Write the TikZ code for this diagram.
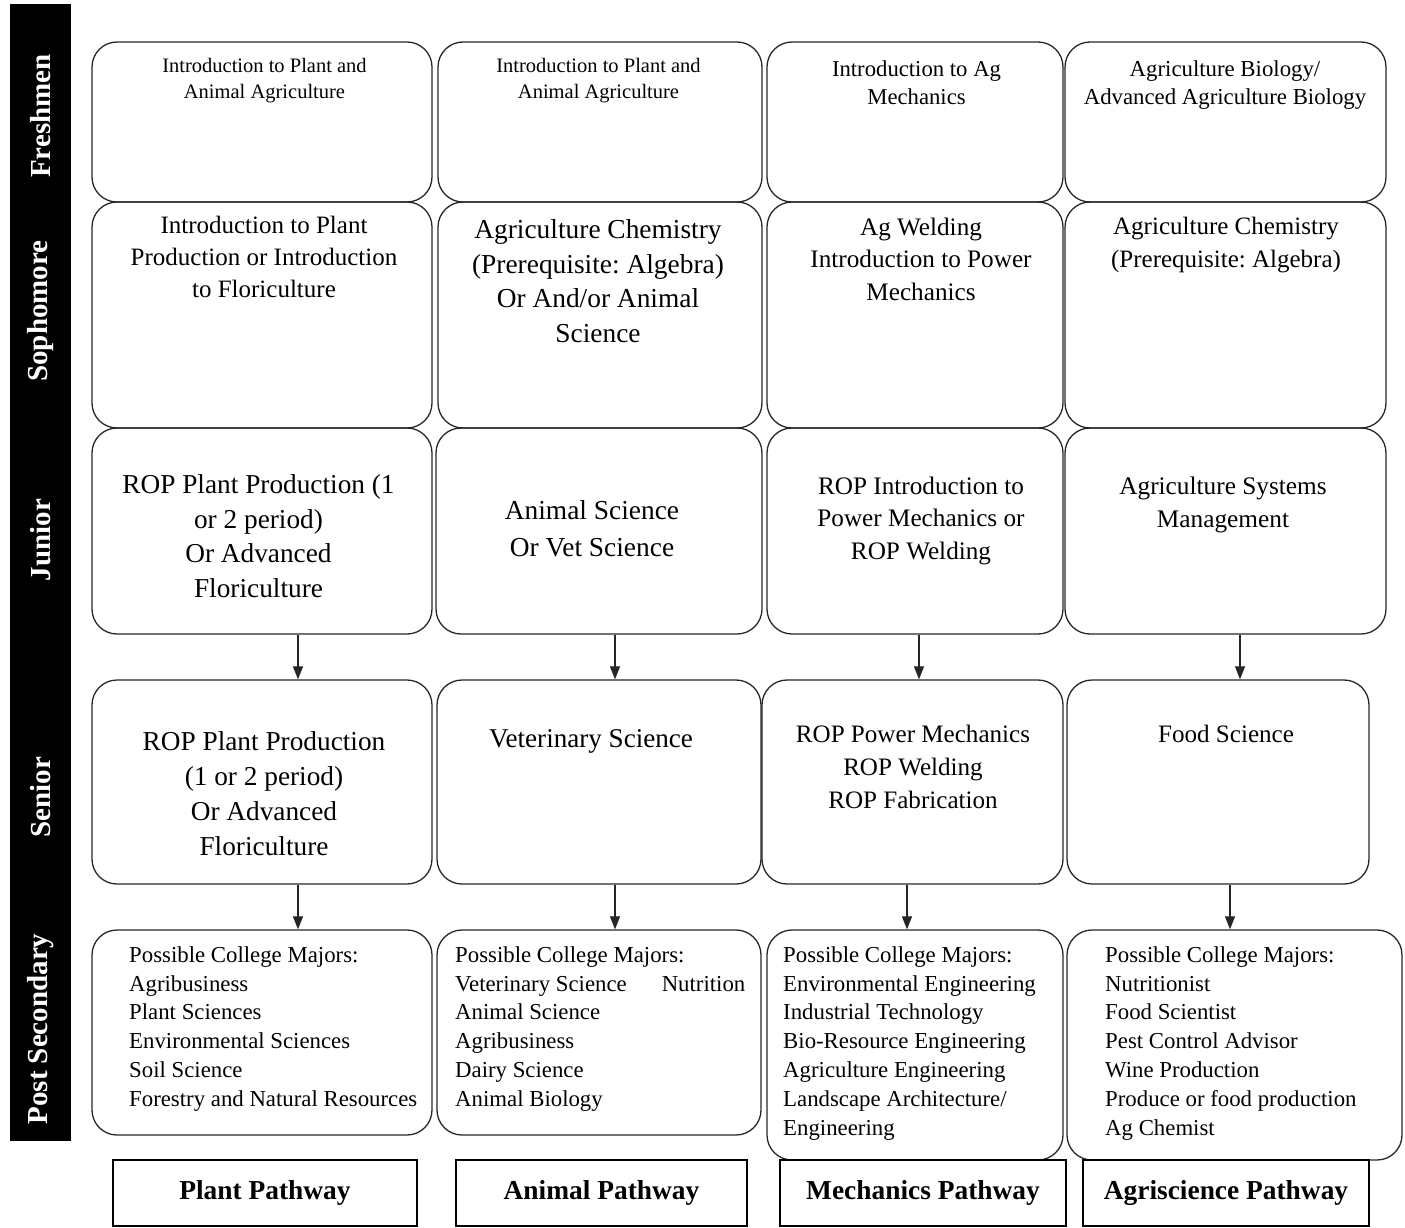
\documentclass[tikz,border=0pt]{standalone}
\usepackage{fontspec}
\setmainfont{Liberation Serif}
\usetikzlibrary{arrows.meta}
\frenchspacing
\newcommand{\fsz}[2]{\fontsize{#1}{#2}\selectfont}
\tikzset{
  cell/.style={draw=black!85, line width=1.3pt, rounded corners=25pt, inner sep=0pt},
  pathbox/.style={draw=black, line width=1.2pt, inner sep=0pt, minimum height=66,
    font=\bfseries\fsz{27.4}{33}},
  yearlab/.style={rotate=90, text=white, font=\bfseries\fsz{29}{35}, inner sep=0pt},
  ctext/.style={align=center, inner sep=0pt, anchor=north},
  ltext/.style={align=left, inner sep=0pt, anchor=north west, font=\fsz{22.8}{28.8}},
  arr/.style={-{Triangle[width=10pt,length=13pt]}, line width=1.2pt, draw=black!85, fill=black!85},
}
\begin{document}
\begin{tikzpicture}[x=1pt,y=-1pt]
  \useasboundingbox (0,0) rectangle (1405,1228);

  % year bar
  \node[fill=black, minimum width=61, minimum height=1137, inner sep=0pt] (bar) at (40.5,572.5) {};
  \begin{scope}[every node/.style={yearlab}]
    \node (yfr) at (41,116)  {Freshmen};
    \node (yso) at (41,311)  {Sophomore};
    \node (yju) at (41,540)  {Junior};
    \node (yse) at (41,797)  {Senior};
    \node (yps) at (41,1029) {Post Secondary};
  \end{scope}

  % boxes
  \begin{scope}[every node/.style={cell}]
    \node[minimum width=340, minimum height=160] (fr1) at (262,122)    {};
    \node[minimum width=324, minimum height=160] (fr2) at (600,122)    {};
    \node[minimum width=296, minimum height=160] (fr3) at (915,122)    {};
    \node[minimum width=321, minimum height=160] (fr4) at (1225.5,122) {};

    \node[minimum width=340, minimum height=226] (so1) at (262,315)    {};
    \node[minimum width=324, minimum height=226] (so2) at (600,315)    {};
    \node[minimum width=296, minimum height=226] (so3) at (915,315)    {};
    \node[minimum width=321, minimum height=226] (so4) at (1225.5,315) {};

    \node[minimum width=340, minimum height=206] (ju1) at (262,531)    {};
    \node[minimum width=326, minimum height=206] (ju2) at (599,531)    {};
    \node[minimum width=296, minimum height=206] (ju3) at (915,531)    {};
    \node[minimum width=321, minimum height=206] (ju4) at (1225.5,531) {};

    \node[minimum width=340, minimum height=204] (se1) at (262,782)    {};
    \node[minimum width=324, minimum height=204] (se2) at (599,782)    {};
    \node[minimum width=301, minimum height=204] (se3) at (912.5,782)  {};
    \node[minimum width=302, minimum height=204] (se4) at (1218,782)   {};

    \node[minimum width=340, minimum height=205] (ps1) at (262,1032.5)  {};
    \node[minimum width=324, minimum height=205] (ps2) at (599,1032.5)  {};
    \node[minimum width=296, minimum height=230] (ps3) at (915,1045)    {};
    \node[minimum width=335, minimum height=230] (ps4) at (1234.5,1045) {};
  \end{scope}

  % course texts
  \node[ctext, font=\fsz{20.5}{26}] (fr1t) at (264.5,57.9) {Introduction to Plant and\\Animal Agriculture};
  \node[ctext, font=\fsz{20.5}{26}] (fr2t) at (598.5,57.9) {Introduction to Plant and\\Animal Agriculture};
  \node[ctext, font=\fsz{22.7}{28}] (fr3t) at (916.5,60.3) {Introduction to Ag\\Mechanics};
  \node[ctext, font=\fsz{22.8}{28}] (fr4t) at (1225,60.3)  {Agriculture Biology/\\Advanced Agriculture Biology};

  \node[ctext, font=\fsz{25}{32}]     (so1t) at (264,215.8)  {Introduction to Plant\\Production or Introduction\\to Floriculture};
  \node[ctext, font=\fsz{27.4}{34.7}] (so2t) at (598,219.1)  {Agriculture Chemistry\\(Prerequisite: Algebra)\\Or And/or Animal\\Science};
  \node[ctext, font=\fsz{25.2}{32.5}] (so3t) at (921,217.6)  {Ag Welding\\Introduction to Power\\Mechanics};
  \node[ctext, font=\fsz{25}{33}]     (so4t) at (1226,216.8) {Agriculture Chemistry\\(Prerequisite: Algebra)};

  \node[ctext, font=\fsz{27.3}{34.7}] (ju1t) at (258.5,474.2) {ROP Plant Production (1\\or 2 period)\\Or Advanced\\Floriculture};
  \node[ctext, font=\fsz{27.4}{37}]   (ju2t) at (592,500.1)   {Animal Science\\Or Vet Science};
  \node[ctext, font=\fsz{25.2}{32.5}] (ju3t) at (921,476.6)   {ROP Introduction to\\Power Mechanics or\\ROP Welding};
  \node[ctext, font=\fsz{25.3}{33}]   (ju4t) at (1223,476.5)  {Agriculture Systems\\Management};

  \node[ctext, font=\fsz{27.3}{35}]   (se1t) at (264,731.2)   {ROP Plant Production\\(1 or 2 period)\\Or Advanced\\Floriculture};
  \node[ctext, font=\fsz{27.1}{35}]   (se2t) at (591,729.3)   {Veterinary Science};
  \node[ctext, font=\fsz{25.1}{33}]   (se3t) at (913,724.7)   {ROP Power Mechanics\\ROP Welding\\ROP Fabrication};
  \node[ctext, font=\fsz{25.1}{33}]   (se4t) at (1226,724.7)  {Food Science};

  \node[ltext] (ps1t) at (129,946.3)  {Possible College Majors:\\Agribusiness\\Plant Sciences\\Environmental Sciences\\Soil Science\\Forestry and Natural Resources};
  \node[ltext] (ps2t) at (455,946.3)  {Possible College Majors:\\Veterinary Science\hspace{35pt}Nutrition\\Animal Science\\Agribusiness\\Dairy Science\\Animal Biology};
  \node[ltext] (ps3t) at (783,946.3)  {Possible College Majors:\\Environmental Engineering\\Industrial Technology\\Bio-Resource Engineering\\Agriculture Engineering\\Landscape Architecture/\\Engineering};
  \node[ltext] (ps4t) at (1105,946.3) {Possible College Majors:\\Nutritionist\\Food Scientist\\Pest Control Advisor\\Wine Production\\Produce or food production\\Ag Chemist};

  % arrows
  \draw[arr] ([xshift=36]ju1.south)   -- ([xshift=36]ju1.south |- se1.north);
  \draw[arr] ([xshift=36]se1.south)   -- ([xshift=36]se1.south |- ps1.north);
  \draw[arr] ([xshift=16]ju2.south)   -- ([xshift=16]ju2.south |- se2.north);
  \draw[arr] ([xshift=16]se2.south)   -- ([xshift=16]se2.south |- ps2.north);
  \draw[arr] ([xshift=4]ju3.south)    -- ([xshift=4]ju3.south |- se3.north);
  \draw[arr] ([xshift=-5.5]se3.south) -- ([xshift=-5.5]se3.south |- ps3.north);
  \draw[arr] ([xshift=14.5]ju4.south) -- ([xshift=14.5]ju4.south |- se4.north);
  \draw[arr] ([xshift=12]se4.south)   -- ([xshift=12]se4.south |- ps4.north);

  % pathways
  \node[pathbox, minimum width=304] (pw1) at (265,1193)   {Plant Pathway};
  \node[pathbox, minimum width=291] (pw2) at (601.5,1193) {Animal Pathway};
  \node[pathbox, minimum width=286] (pw3) at (923,1193)   {Mechanics Pathway};
  \node[pathbox, minimum width=286] (pw4) at (1226,1193)  {Agriscience Pathway};

\end{tikzpicture}
\end{document}
